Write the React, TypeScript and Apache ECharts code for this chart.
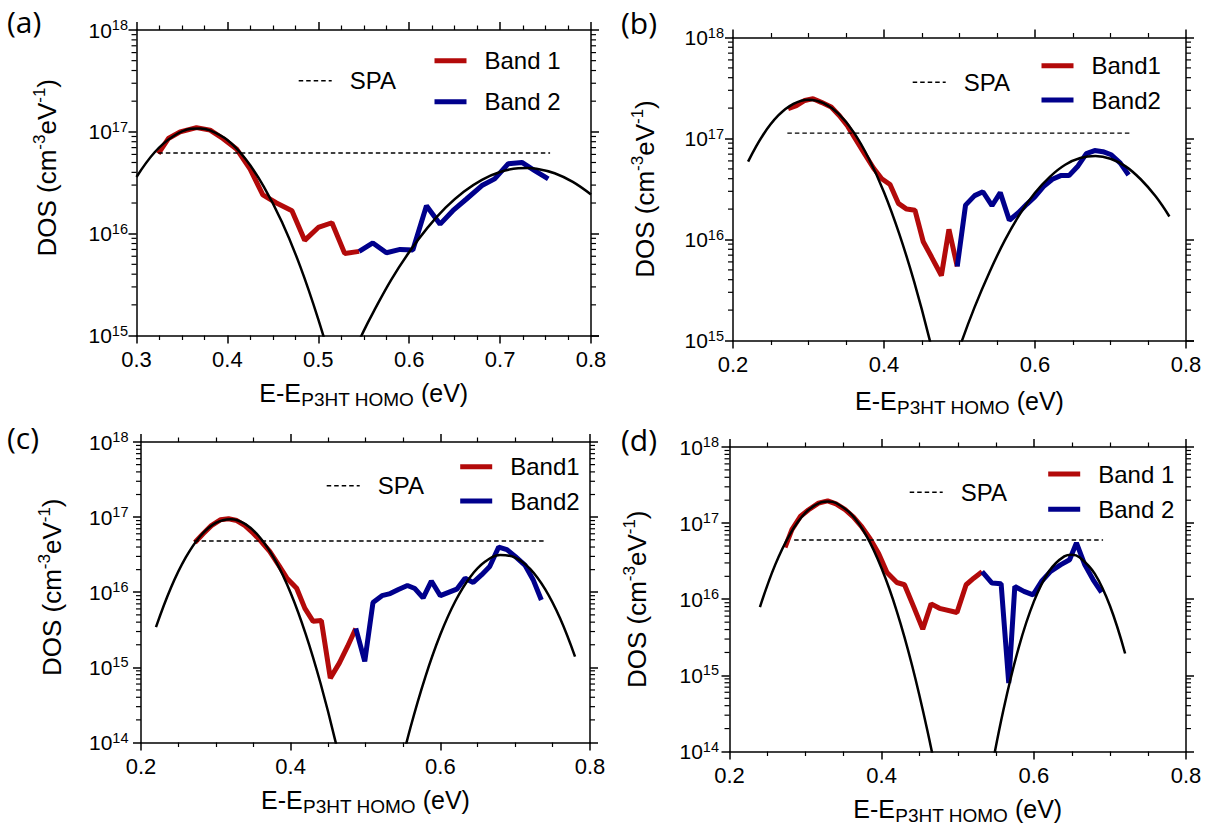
import React, { useEffect, useRef } from "react";
import * as echarts from "echarts";

const FONT = '"Liberation Sans", Arial, Helvetica, sans-serif';
const LABEL_FONT = '"Open Sans", "Noto Sans", sans-serif';
const RED = "#b30a0a";
const BLUE = "#00008c";
const BLACK = "#000000";

// ---------- panel (a) ----------
const bandA1X = [0.324, 0.335, 0.348, 0.366, 0.381, 0.395, 0.41, 0.425, 0.439, 0.454, 0.471, 0.485, 0.5, 0.515, 0.529, 0.545];
const bandA1Y = [6.1e16, 8.6e16, 1.0e17, 1.1e17, 1.04e17, 8.6e16, 6.8e16, 4.3e16, 2.4e16, 2.0e16, 1.68e16, 8.6e15, 1.15e16, 1.28e16, 6.4e15, 6.7e15];
const bandA2X = [0.545, 0.56, 0.575, 0.59, 0.604, 0.619, 0.634, 0.648, 0.663, 0.68, 0.694, 0.709, 0.724, 0.738, 0.753];
const bandA2Y = [6.7e15, 8.1e15, 6.5e15, 7.0e15, 6.9e15, 1.88e16, 1.24e16, 1.68e16, 2.19e16, 2.97e16, 3.45e16, 4.86e16, 5.0e16, 4.17e16, 3.45e16];
const fitA1X = [0.3, 0.32, 0.34, 0.36, 0.37, 0.38, 0.4, 0.42, 0.44, 0.46, 0.48, 0.5, 0.52];
const fitA1Y = [3.6e16, 6.3e16, 9.0e16, 1.07e17, 1.08e17, 1.04e17, 8.3e16, 5.4e16, 2.9e16, 1.3e16, 4.8e15, 1.44e15, 3.6e14];
const fitA2X = [0.53, 0.55, 0.56, 0.58, 0.6, 0.62, 0.64, 0.66, 0.68, 0.7, 0.72, 0.73, 0.74, 0.76, 0.78, 0.8];
const fitA2Y = [4.6e14, 1.11e15, 1.66e15, 3.5e15, 6.6e15, 1.14e16, 1.8e16, 2.58e16, 3.38e16, 4.03e16, 4.39e16, 4.41e16, 4.35e16, 3.92e16, 3.22e16, 2.42e16];
const spaAX = [0.324, 0.755];
const spaAY = [6.2e16, 6.2e16];

// ---------- panel (b) ----------
const bandB1X = [0.273, 0.284, 0.295, 0.306, 0.317, 0.33, 0.341, 0.352, 0.363, 0.375, 0.386, 0.397, 0.408, 0.419, 0.43, 0.441, 0.452, 0.463, 0.476, 0.486, 0.497];
const bandB1Y = [1.97e17, 2.11e17, 2.38e17, 2.48e17, 2.28e17, 2.05e17, 1.68e17, 1.32e17, 9.7e16, 6.9e16, 5.1e16, 4.0e16, 3.5e16, 2.28e16, 2.0e16, 1.95e16, 9.5e15, 6.7e15, 4.4e15, 1.26e16, 5.4e15];
const bandB2X = [0.497, 0.508, 0.52, 0.531, 0.543, 0.554, 0.566, 0.578, 0.589, 0.6, 0.612, 0.623, 0.634, 0.645, 0.657, 0.668, 0.679, 0.69, 0.701, 0.713, 0.724];
const bandB2Y = [5.4e15, 2.19e16, 2.72e16, 2.97e16, 2.16e16, 2.91e16, 1.55e16, 1.84e16, 2.23e16, 2.66e16, 3.39e16, 3.95e16, 4.29e16, 4.29e16, 5.35e16, 7.1e16, 7.6e16, 7.4e16, 6.9e16, 5.7e16, 4.35e16];
const fitB1X = [0.22, 0.24, 0.26, 0.28, 0.3, 0.32, 0.34, 0.36, 0.38, 0.4, 0.42, 0.44, 0.46, 0.48];
const fitB1Y = [5.9e16, 1.09e17, 1.69e17, 2.2e17, 2.42e17, 2.24e17, 1.75e17, 1.15e17, 6.3e16, 2.94e16, 1.15e16, 3.8e15, 1.05e15, 2.4e14];
const fitB2X = [0.48, 0.5, 0.52, 0.54, 0.56, 0.58, 0.6, 0.62, 0.64, 0.66, 0.68, 0.7, 0.72, 0.74, 0.76, 0.778];
const fitB2Y = [3.0e14, 8.5e14, 2.14e15, 4.8e15, 9.8e15, 1.79e16, 2.9e16, 4.2e16, 5.5e16, 6.4e16, 6.7e16, 6.3e16, 5.3e16, 3.95e16, 2.66e16, 1.69e16];
const spaBX = [0.272, 0.725];
const spaBY = [1.13e17, 1.13e17];

// ---------- panel (c) ----------
const bandC1X = [0.272, 0.283, 0.294, 0.306, 0.317, 0.328, 0.339, 0.35, 0.361, 0.372, 0.384, 0.395, 0.408, 0.419, 0.43, 0.441, 0.453, 0.465, 0.476, 0.487];
const bandC1Y = [4.6e16, 6.0e16, 7.7e16, 9.2e16, 9.5e16, 9.0e16, 7.7e16, 6.1e16, 4.7e16, 3.5e16, 2.3e16, 1.54e16, 1.13e16, 6.1e15, 4.1e15, 4.2e15, 7.2e14, 1.14e15, 1.9e15, 3.3e15];
const bandC2X = [0.487, 0.499, 0.51, 0.522, 0.533, 0.544, 0.556, 0.566, 0.577, 0.588, 0.6, 0.611, 0.622, 0.633, 0.644, 0.655, 0.666, 0.678, 0.689, 0.7, 0.713, 0.724, 0.735];
const bandC2Y = [3.3e15, 1.2e15, 7.3e15, 9.0e15, 9.6e15, 1.09e16, 1.23e16, 1.12e16, 8.4e15, 1.41e16, 9.0e15, 9.95e15, 1.1e16, 1.54e16, 1.35e16, 1.7e16, 2.2e16, 4.0e16, 3.7e16, 3.0e16, 2.3e16, 1.47e16, 7.9e15];
const fitC1X = [0.22, 0.24, 0.26, 0.28, 0.3, 0.32, 0.34, 0.36, 0.38, 0.4, 0.42, 0.44, 0.46, 0.48];
const fitC1Y = [3.44e15, 1.15e16, 2.93e16, 5.7e16, 8.4e16, 9.4e16, 8.0e16, 5.2e16, 2.6e16, 9.8e15, 2.8e15, 6.1e14, 1.02e14, 1.3e13];
const fitC2X = [0.54, 0.56, 0.58, 0.6, 0.62, 0.64, 0.66, 0.68, 0.7, 0.72, 0.74, 0.76, 0.78];
const fitC2Y = [2.5e13, 1.57e14, 7.5e14, 2.74e15, 7.6e15, 1.6e16, 2.56e16, 3.13e16, 2.9e16, 2.05e16, 1.1e16, 4.5e15, 1.39e15];
const spaCX = [0.271, 0.738];
const spaCY = [4.8e16, 4.8e16];

// ---------- panel (d) ----------
const bandD1X = [0.273, 0.282, 0.293, 0.304, 0.317, 0.329, 0.34, 0.352, 0.363, 0.374, 0.385, 0.396, 0.407, 0.42, 0.43, 0.442, 0.454, 0.465, 0.476, 0.499, 0.511, 0.521, 0.532];
const bandD1Y = [4.8e16, 8.2e16, 1.22e17, 1.5e17, 1.83e17, 1.96e17, 1.79e17, 1.5e17, 1.2e17, 8.9e16, 6.2e16, 4.0e16, 2.25e16, 1.66e16, 1.55e16, 8.0e15, 4.05e15, 8.7e15, 7.6e15, 6.7e15, 1.55e16, 1.89e16, 2.3e16];
const bandD2X = [0.532, 0.545, 0.557, 0.567, 0.575, 0.587, 0.599, 0.61, 0.622, 0.635, 0.647, 0.656, 0.667, 0.678, 0.689];
const bandD2Y = [2.3e16, 1.63e16, 1.6e16, 7.9e14, 1.47e16, 1.27e16, 1.14e16, 1.71e16, 2.32e16, 2.83e16, 3.3e16, 5.5e16, 2.83e16, 1.8e16, 1.23e16];
const fitD1X = [0.24, 0.26, 0.28, 0.3, 0.32, 0.33, 0.34, 0.36, 0.38, 0.4, 0.42, 0.44, 0.46, 0.48];
const fitD1Y = [7.9e15, 2.83e16, 7.3e16, 1.37e17, 1.87e17, 1.93e17, 1.84e17, 1.31e17, 6.8e16, 2.53e16, 6.9e15, 1.35e15, 1.9e14, 2.0e13];
const fitD2X = [0.54, 0.56, 0.58, 0.6, 0.62, 0.64, 0.65, 0.66, 0.68, 0.7, 0.72];
const fitD2Y = [3.4e13, 3.5e14, 2.3e15, 9.3e15, 2.33e16, 3.66e16, 3.84e16, 3.57e16, 2.17e16, 8.2e15, 1.94e15];
const spaDX = [0.285, 0.691];
const spaDY = [6.0e16, 6.0e16];

// log-axis minor tick multipliers (2..9 per decade)
const MINOR_MULT = [2, 3, 4, 5, 6, 7, 8, 9];

const X_NAME = "{m|E-E}{sub|P3HT HOMO}{m| (eV)}";
const Y_NAME = "{m|DOS (cm}{sup|-3}{m|eV}{sup|-1}{m|)}";

interface Panel {
  tag: string;
  labelX: number;
  labelY: number;
  grid: { left: number; top: number; width: number; height: number };
  xMin: number;
  xMax: number;
  xInterval: number;
  yMin: number;
  yMax: number;
  band1Name: string;
  band2Name: string;
  band1X: number[];
  band1Y: number[];
  band2X: number[];
  band2Y: number[];
  fit1X: number[];
  fit1Y: number[];
  fit2X: number[];
  fit2Y: number[];
  spaX: number[];
  spaY: number[];
  yLabelMargin: number;
  yNameGap: number;
  yNameShift: number;
  xNameGap: number;
  spaLeg: { left: number; cy: number };
  bandLeg: { left: number; cy1: number; cy2: number };
}

const panels: Panel[] = [
  {
    tag: "a", labelX: 7, labelY: 21,
    grid: { left: 136.5, top: 30, width: 454.5, height: 305.5 },
    xMin: 0.3, xMax: 0.8, xInterval: 0.1, yMin: 1e15, yMax: 1e18,
    band1Name: "Band 1", band2Name: "Band 2",
    band1X: bandA1X, band1Y: bandA1Y, band2X: bandA2X, band2Y: bandA2Y,
    fit1X: fitA1X, fit1Y: fitA1Y, fit2X: fitA2X, fit2Y: fitA2Y,
    spaX: spaAX, spaY: spaAY,
    yLabelMargin: 8.5, yNameGap: 74, yNameShift: 15, xNameGap: 41,
    spaLeg: { left: 298, cy: 80.7 },
    bandLeg: { left: 432, cy1: 60.7, cy2: 101.7 },
  },
  {
    tag: "b", labelX: 621, labelY: 22,
    grid: { left: 733, top: 37.5, width: 453, height: 303 },
    xMin: 0.2, xMax: 0.8, xInterval: 0.2, yMin: 1e15, yMax: 1e18,
    band1Name: "Band1", band2Name: "Band2",
    band1X: bandB1X, band1Y: bandB1Y, band2X: bandB2X, band2Y: bandB2Y,
    fit1X: fitB1X, fit1Y: fitB1Y, fit2X: fitB2X, fit2Y: fitB2Y,
    spaX: spaBX, spaY: spaBY,
    yLabelMargin: 9, yNameGap: 72.5, yNameShift: 0, xNameGap: 44,
    spaLeg: { left: 912, cy: 82.3 },
    bandLeg: { left: 1039, cy1: 65.7, cy2: 100 },
  },
  {
    tag: "c", labelX: 7, labelY: 437.5,
    grid: { left: 141, top: 442, width: 449, height: 300.5 },
    xMin: 0.2, xMax: 0.8, xInterval: 0.2, yMin: 1e14, yMax: 1e18,
    band1Name: "Band1", band2Name: "Band2",
    band1X: bandC1X, band1Y: bandC1Y, band2X: bandC2X, band2Y: bandC2Y,
    fit1X: fitC1X, fit1Y: fitC1Y, fit2X: fitC2X, fit2Y: fitC2Y,
    spaX: spaCX, spaY: spaCY,
    yLabelMargin: 12.5, yNameGap: 73.5, yNameShift: 5, xNameGap: 41,
    spaLeg: { left: 326, cy: 485.7 },
    bandLeg: { left: 457.7, cy1: 466.7, cy2: 501 },
  },
  {
    tag: "d", labelX: 621, labelY: 439.5,
    grid: { left: 729.5, top: 447, width: 456.5, height: 304.5 },
    xMin: 0.2, xMax: 0.8, xInterval: 0.2, yMin: 1e14, yMax: 1e18,
    band1Name: "Band 1", band2Name: "Band 2",
    band1X: bandD1X, band1Y: bandD1Y, band2X: bandD2X, band2Y: bandD2Y,
    fit1X: fitD1X, fit1Y: fitD1Y, fit2X: fitD2X, fit2Y: fitD2Y,
    spaX: spaDX, spaY: spaDY,
    yLabelMargin: 10.5, yNameGap: 77, yNameShift: 0, xNameGap: 41.5,
    spaLeg: { left: 909, cy: 492.3 },
    bandLeg: { left: 1045.7, cy1: 474, cy2: 509.3 },
  },
];

function pairs(xs: number[], ys: number[]): number[][] {
  return xs.map((x, i) => [x, ys[i]]);
}

function minorTickValues(yMin: number, yMax: number): number[] {
  const out: number[] = [];
  for (let d = yMin; d < yMax * 0.999; d *= 10) {
    for (const m of MINOR_MULT) out.push(m * d);
  }
  return out;
}

function buildOption(): any {
  const grid: any[] = [];
  const xAxis: any[] = [];
  const yAxis: any[] = [];
  const series: any[] = [];
  const legend: any[] = [];
  const graphic: any[] = [];

  const axisLine = { show: true, onZero: false, lineStyle: { color: BLACK, width: 1.5 } };
  const axisTick = { show: true, inside: false, length: 8, lineStyle: { color: BLACK, width: 1.5 } };
  const minorTick = { show: true, splitNumber: 4, length: 4.5, lineStyle: { color: BLACK, width: 1.2 } };
  const legendText = { fontSize: 24, fontFamily: FONT, color: BLACK, padding: [0, 0, 0, 13] };
  const ITEM_H = 24;

  const addLegend = (name: string, left: number, cy: number, w: number, lw: number) => {
    legend.push({
      show: true, orient: "vertical", left, top: cy - ITEM_H / 2, padding: 0,
      itemWidth: w, itemHeight: ITEM_H, itemGap: 0, data: [name], selectedMode: false,
      textStyle: legendText, lineStyle: { width: lw },
      itemStyle: { opacity: 0, borderWidth: 0 },
    });
  };

  panels.forEach((p, i) => {
    grid.push({
      left: p.grid.left, top: p.grid.top, width: p.grid.width, height: p.grid.height,
      containLabel: false, outerBoundsMode: "none", show: false,
    });

    const xCommon = {
      type: "value", gridIndex: i, min: p.xMin, max: p.xMax, interval: p.xInterval,
      axisLine, axisTick, minorTick,
      splitLine: { show: false }, minorSplitLine: { show: false },
    };
    xAxis.push({
      ...xCommon,
      position: "bottom",
      axisLabel: {
        show: true, margin: 13, fontSize: 22, fontFamily: FONT, color: BLACK,
        showMinLabel: true, showMaxLabel: true,
        formatter: (v: number) => v.toFixed(1),
      },
      name: X_NAME, nameLocation: "middle", nameGap: p.xNameGap, nameMoveOverlap: false,
      nameTextStyle: {
        color: BLACK, fontFamily: FONT,
        rich: {
          m: { fontSize: 25, lineHeight: 32, fontFamily: FONT, color: BLACK },
          sub: { fontSize: 19, lineHeight: 15, verticalAlign: "bottom", fontFamily: FONT, color: BLACK },
        },
      },
    });
    xAxis.push({ ...xCommon, position: "top", axisLabel: { show: false } });

    const yCommon = {
      type: "log", logBase: 10, gridIndex: i, min: p.yMin, max: p.yMax,
      axisLine, axisTick, splitLine: { show: false },
    };
    yAxis.push({
      ...yCommon,
      position: "left",
      axisLabel: {
        show: true, margin: p.yLabelMargin, color: BLACK, showMinLabel: true, showMaxLabel: true,
        formatter: (v: number) => `{b|10}{s|${Math.round(Math.log10(v))}}`,
        rich: {
          b: { fontSize: 21, lineHeight: 25, fontFamily: FONT, color: BLACK },
          s: { fontSize: 14.5, lineHeight: 14, verticalAlign: "top", fontFamily: FONT, color: BLACK },
        },
      },
      name: Y_NAME, nameLocation: "middle", nameGap: p.yNameGap, nameMoveOverlap: false,
      nameTextStyle: {
        color: BLACK, fontFamily: FONT,
        padding: [0, 0, 0, p.yNameShift * 2],
        rich: {
          m: { fontSize: 26, lineHeight: 32, fontFamily: FONT, color: BLACK },
          sup: { fontSize: 17, lineHeight: 17, verticalAlign: "top", fontFamily: FONT, color: BLACK },
        },
      },
    });
    yAxis.push({ ...yCommon, position: "right", axisLabel: { show: false } });

    const xi = 2 * i;
    const yi = 2 * i;
    series.push({
      type: "line", name: p.band1Name, xAxisIndex: xi, yAxisIndex: yi,
      data: pairs(p.band1X, p.band1Y), symbol: "none", z: 3,
      lineStyle: { color: RED, width: 5 }, itemStyle: { color: RED },
    });
    series.push({
      type: "line", name: p.band2Name, xAxisIndex: xi, yAxisIndex: yi,
      data: pairs(p.band2X, p.band2Y), symbol: "none", z: 3,
      lineStyle: { color: BLUE, width: 5 }, itemStyle: { color: BLUE },
    });
    series.push({
      type: "line", name: "Gaussian fit 1", xAxisIndex: xi, yAxisIndex: yi,
      data: pairs(p.fit1X, p.fit1Y), symbol: "none", smooth: 0.4, z: 4, silent: true,
      lineStyle: { color: BLACK, width: 2.5 }, itemStyle: { color: BLACK },
    });
    series.push({
      type: "line", name: "Gaussian fit 2", xAxisIndex: xi, yAxisIndex: yi,
      data: pairs(p.fit2X, p.fit2Y), symbol: "none", smooth: 0.4, z: 4, silent: true,
      lineStyle: { color: BLACK, width: 2.5 }, itemStyle: { color: BLACK },
    });
    series.push({
      type: "line", name: "SPA", xAxisIndex: xi, yAxisIndex: yi,
      data: pairs(p.spaX, p.spaY), symbol: "none", z: 4,
      lineStyle: { color: BLACK, width: 1.4, type: [4.5, 3] }, itemStyle: { color: BLACK },
    });
    const xMin = p.xMin;
    const xMax = p.xMax;
    series.push({
      type: "custom", name: "minor ticks", xAxisIndex: xi, yAxisIndex: yi,
      silent: true, clip: false, z: 5,
      data: minorTickValues(p.yMin, p.yMax).map((v) => [xMin, v]),
      renderItem: (_params: any, api: any) => {
        const v = api.value(1);
        const pl = api.coord([xMin, v]);
        const pr = api.coord([xMax, v]);
        const st = { stroke: BLACK, lineWidth: 1.2 };
        return {
          type: "group",
          children: [
            { type: "line", shape: { x1: pl[0] - 5, y1: pl[1], x2: pl[0], y2: pl[1] }, style: st },
            { type: "line", shape: { x1: pr[0], y1: pr[1], x2: pr[0] + 5, y2: pr[1] }, style: st },
          ],
        };
      },
    });

    addLegend("SPA", p.spaLeg.left, p.spaLeg.cy, 33, 1.4);
    addLegend(p.band1Name, p.bandLeg.left, p.bandLeg.cy1, 32, 5);
    addLegend(p.band2Name, p.bandLeg.left, p.bandLeg.cy2, 32, 5);

    graphic.push({
      type: "text", x: p.labelX, y: p.labelY,
      style: {
        text: `(${p.tag})`, fontSize: 30, fontFamily: LABEL_FONT, fill: BLACK,
        align: "left", verticalAlign: "middle",
      },
    });
  });

  return {
    animation: false,
    backgroundColor: "#ffffff",
    grid, xAxis, yAxis, series, legend, graphic,
  };
}

export default function App() {
  const ref = useRef<HTMLDivElement>(null);
  useEffect(() => {
    if (!ref.current) return;
    const chart = echarts.init(ref.current, null, { renderer: "svg", width: 1209, height: 827 });
    chart.setOption(buildOption());
    return () => chart.dispose();
  }, []);
  return (
    <div
      ref={ref}
      style={{ position: "absolute", left: 0, top: 0, width: 1209, height: 827, background: "#fff" }}
    />
  );
}
